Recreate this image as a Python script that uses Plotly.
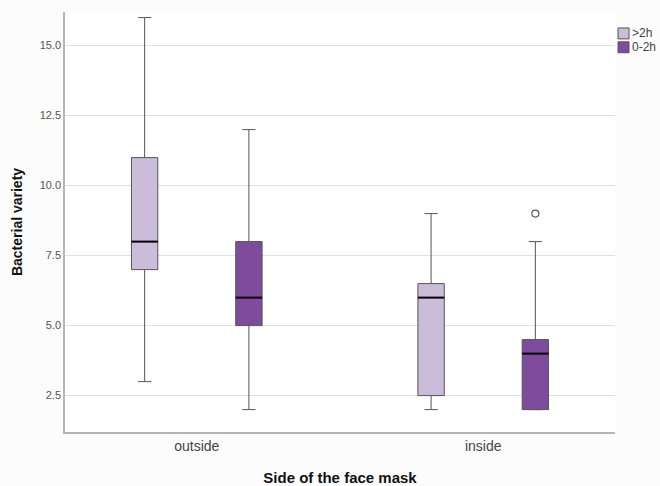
import plotly.graph_objects as go

categories = ["outside", "inside"]
series_names = [">2h", "0-2h"]
# per series: [outside, inside]
lower = {">2h": [3, 2], "0-2h": [2, 2]}
q1 = {">2h": [7, 2.5], "0-2h": [5, 2]}
median = {">2h": [8, 6], "0-2h": [6, 4]}
q3 = {">2h": [11, 6.5], "0-2h": [8, 4.5]}
upper = {">2h": [16, 9], "0-2h": [12, 8]}
outliers = {">2h": [[], []], "0-2h": [[], [9]]}
yticks = [2.5, 5.0, 7.5, 10.0, 12.5, 15.0]

colors = {">2h": "#cbbcd9", "0-2h": "#7f4c9d"}
offsets = {">2h": -0.182, "0-2h": 0.182}
box_w = 0.092

fig = go.Figure()
shapes = []
annotations = []
for s in series_names:
    xs = [i + offsets[s] for i in range(len(categories))]
    fig.add_trace(go.Box(
        name=s, x=xs, q1=q1[s], median=median[s], q3=q3[s],
        lowerfence=lower[s], upperfence=upper[s],
        width=box_w, whiskerwidth=0.5,
        fillcolor=colors[s], line=dict(color="#555555", width=1),
        boxpoints=False, hoverinfo="skip", showlegend=False,
    ))
    for i, x in enumerate(xs):
        shapes.append(dict(type="line", xref="x", yref="y",
                           x0=x - box_w / 2, x1=x + box_w / 2,
                           y0=median[s][i], y1=median[s][i],
                           line=dict(color="#000000", width=2)))
        if outliers[s][i]:
            fig.add_trace(go.Scatter(
                x=[x] * len(outliers[s][i]), y=outliers[s][i], mode="markers",
                marker=dict(symbol="circle-open", size=7, color="#555555",
                            line=dict(width=1.2)),
                showlegend=False, hoverinfo="skip"))

# manual legend (top right)
for k, s in enumerate(series_names):
    y_top = 0.962 - k * 0.033
    shapes.append(dict(type="rect", xref="paper", yref="paper",
                       x0=1.0055, x1=1.0255, y0=y_top - 0.026, y1=y_top,
                       fillcolor=colors[s], line=dict(color="#555555", width=1)))
    annotations.append(dict(xref="paper", yref="paper", x=1.028, y=y_top - 0.013,
                            xanchor="left", yanchor="middle", showarrow=False,
                            text=s, font=dict(size=12, color="#444444")))

fig.update_layout(
    width=660, height=486,
    margin=dict(l=65, r=45, t=12, b=54, autoexpand=False),
    paper_bgcolor="#fcfcfc", plot_bgcolor="#ffffff",
    shapes=shapes, annotations=annotations,
    font=dict(family="Liberation Sans, Arial, sans-serif", color="#444444"),
    showlegend=False,
)
fig.update_xaxes(
    range=[-0.46, 1.46], tickvals=list(range(len(categories))), ticktext=categories,
    showgrid=False, zeroline=False, showline=True, linecolor="#b5b5b5", linewidth=1.5,
    ticks="", tickfont=dict(size=14, color="#444444"), automargin=False,
    title=dict(text="<b>Side of the face mask</b>", font=dict(size=15, color="#111111"), standoff=22),
)
fig.update_yaxes(
    range=[1.2, 16.2], tickvals=yticks, tickformat=".1f",
    showgrid=True, gridcolor="#e0e0e0", gridwidth=1, zeroline=False,
    showline=True, linecolor="#b5b5b5", linewidth=1.5, ticks="",
    tickfont=dict(size=11, color="#555555"), automargin=False,
    title=dict(text="<b>Bacterial variety</b>", font=dict(size=14, color="#111111"), standoff=14),
)
fig.write_html("out.html", config={"displayModeBar": False},
               post_script="document.body.style.margin='0';document.body.style.overflow='hidden';")
